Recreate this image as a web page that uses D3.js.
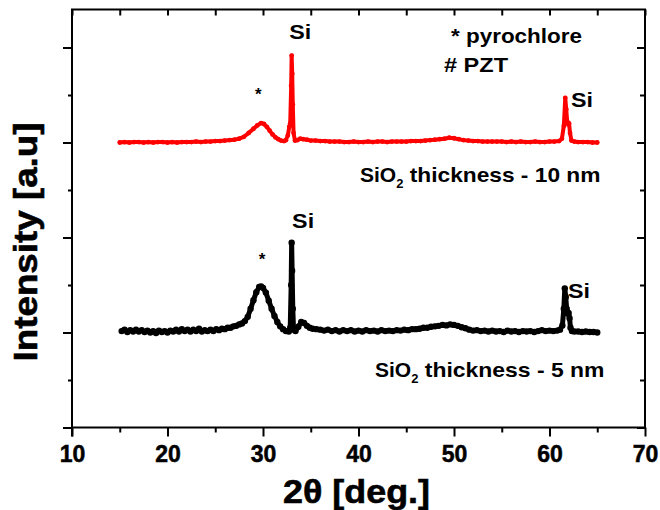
<!DOCTYPE html>
<html>
<head>
<meta charset="utf-8">
<script src="https://cdn.jsdelivr.net/npm/d3@7"></script>
<style>
  body { margin: 0; background: #fff; }
  svg text { font-family: "Liberation Sans", Arial, sans-serif; font-weight: bold; fill: #000; }
</style>
</head>
<body>
<div id="chart"></div>
<script>
// 2theta (deg) and intensity above baseline (a.u.)
var redTrace = [[15.0,.00],[15.5,.01],[16.0,.00],[16.5,.01],[17.0,.01],[17.5,.00],[18.0,.01],[18.5,.00],[19.0,.01],[19.5,.01],
  [20.0,.00],[20.5,.01],[21.0,.00],[21.5,.01],[22.0,.01],[22.5,.01],[23.0,.02],[23.5,.01],[24.0,.02],[24.5,.02],
  [25.0,.03],[25.5,.03],[26.0,.04],[26.5,.05],[27.0,.06],[27.5,.08],[28.0,.12],[28.5,.20],[29.0,.29],[29.4,.36],
  [29.8,.41],[30.1,.39],[30.4,.33],[30.7,.25],[31.0,.17],[31.3,.11],[31.6,.07],[31.9,.04],[32.2,.03],[32.4,.05],
  [32.6,.15],[32.75,.33],[32.85,.40],[32.95,1.20],[33.0,1.83],[33.06,1.45],[33.12,.80],[33.2,.20],[33.35,.04],[33.6,.05],
  [33.9,.08],[34.2,.07],[34.6,.06],[35.0,.04],[35.5,.04],[36.0,.03],[36.5,.03],[37.0,.02],[37.5,.02],[38.0,.02],
  [38.5,.01],[39.0,.01],[39.5,.02],[40.0,.01],[40.5,.01],[41.0,.02],[41.5,.01],[42.0,.02],[42.5,.02],[43.0,.01],
  [43.5,.02],[44.0,.02],[44.5,.02],[45.0,.02],[45.5,.03],[46.0,.03],[46.5,.03],[47.0,.04],[47.5,.05],[48.0,.06],
  [48.5,.07],[49.0,.08],[49.5,.10],[50.0,.09],[50.5,.07],[51.0,.05],[51.5,.04],[52.0,.03],[52.5,.03],[53.0,.02],
  [53.5,.02],[54.0,.02],[54.5,.02],[55.0,.02],[55.5,.01],[56.0,.02],[56.5,.01],[57.0,.02],[57.5,.01],[58.0,.01],
  [58.5,.02],[59.0,.01],[59.5,.01],[60.0,.02],[60.5,.02],[61.0,.03],[61.3,.08],[61.5,.35],[61.65,.94],[61.75,.70],
  [61.85,.45],[61.95,.38],[62.05,.40],[62.15,.20],[62.3,.04],[62.6,.02],[63.0,.01],[63.5,.01],[64.0,.01],[64.5,.00],[65.0,.00]]

var blackTrace = [[15.2,.03],[15.5,.06],[15.8,.01],[16.1,.05],[16.4,.02],[16.7,.06],[17.0,.02],[17.3,.05],[17.6,.01],[17.9,.04],
  [18.2,.00],[18.5,.03],[18.8,-.01],[19.1,.04],[19.4,.01],[19.7,.03],[20.0,.00],[20.3,.04],[20.6,.02],[20.9,.06],
  [21.2,.02],[21.5,.07],[21.8,.03],[22.1,.06],[22.4,.02],[22.7,.06],[23.0,.03],[23.3,.08],[23.6,.02],[23.9,.05],
  [24.2,.03],[24.5,.06],[24.8,.03],[25.1,.07],[25.4,.05],[25.7,.08],[26.0,.07],[26.3,.10],[26.6,.10],[26.9,.13],
  [27.2,.14],[27.5,.17],[27.8,.19],[28.1,.24],[28.4,.33],[28.7,.50],[29.0,.68],[29.3,.85],[29.6,.96],[29.8,.97],
  [30.0,.94],[30.3,.84],[30.6,.67],[30.9,.50],[31.2,.35],[31.5,.22],[31.8,.13],[32.1,.07],[32.4,.03],[32.7,.02],
  [32.85,.10],[32.95,1.00],[33.0,1.89],[33.05,1.30],[33.12,.50],[33.2,.06],[33.4,.03],[33.7,.12],[34.0,.22],[34.3,.20],
  [34.6,.14],[34.9,.10],[35.2,.08],[35.6,.07],[36.0,.06],[36.4,.04],[36.8,.06],[37.2,.03],[37.6,.05],[38.0,.02],
  [38.4,.05],[38.8,.03],[39.2,.05],[39.6,.02],[40.0,.04],[40.4,.02],[40.8,.05],[41.2,.03],[41.6,.04],[42.0,.02],
  [42.4,.05],[42.8,.03],[43.2,.04],[43.6,.03],[44.0,.05],[44.4,.04],[44.8,.06],[45.2,.05],[45.6,.07],[46.0,.07],
  [46.4,.08],[46.8,.10],[47.2,.10],[47.6,.12],[48.0,.13],[48.4,.14],[48.8,.16],[49.2,.15],[49.6,.17],[50.0,.16],
  [50.4,.14],[50.8,.11],[51.2,.09],[51.6,.06],[52.0,.04],[52.4,.05],[52.8,.03],[53.2,.04],[53.6,.02],[54.0,.04],
  [54.4,.02],[54.8,.03],[55.2,.01],[55.6,.04],[56.0,.02],[56.4,.03],[56.8,.01],[57.2,.03],[57.6,.02],[58.0,.03],
  [58.4,.01],[58.8,.03],[59.2,.05],[59.6,.03],[60.0,.04],[60.4,.03],[60.8,.04],[61.1,.06],[61.35,.15],[61.5,.50],
  [61.6,.93],[61.7,.75],[61.8,.50],[61.9,.40],[62.0,.41],[62.1,.30],[62.2,.10],[62.35,.03],[62.6,.02],[63.0,.02],
  [63.4,.01],[63.8,.02],[64.2,.01],[64.6,.01],[65.0,.00]]

var offsets = {red: 6, black: 2}   // vertical stacking of the two patterns
var xTicks = [10, 20, 30, 40, 50, 60, 70]
var xMinor = [15, 25, 35, 45, 55, 65]
var yMajor = [0, 2, 4, 6, 8]
var yMinor = [1, 3, 5, 7]

// peak labels: [2theta, intensity, text]
var peakLabels = [
  [33.9, 8.17, "Si"], [29.5, 6.9, "*"], [63.4, 6.75, "Si"],
  [34.2, 4.2, "Si"], [29.9, 3.42, "*"], [63.1, 2.73, "Si"]
]

var width = 660, height = 510
var margin = {top: 9.5, right: 15, bottom: 82.5, left: 72}

var svg = d3.select("#chart").append("svg")
  .attr("width", width)
  .attr("height", height)

var x = d3.scaleLinear().domain([10, 70]).range([margin.left, width - margin.right])
var y = d3.scaleLinear().domain([0, 8.8]).range([height - margin.bottom, margin.top])

var plotBottom = height - margin.bottom, plotTop = margin.top
var plotLeft = margin.left, plotRight = width - margin.right

function styleAxis(g) {
  g.selectAll(".domain").remove()
  g.selectAll("line").attr("stroke", "#000").attr("stroke-width", 2)
}

// bottom axis: major + minor outward
svg.append("g").attr("transform", "translate(0," + plotBottom + ")")
  .call(d3.axisBottom(x).tickValues(xTicks).tickSize(9).tickPadding(9))
  .call(styleAxis)
  .selectAll("text").style("font-size", "23px")
  .attr("stroke", "#000").attr("stroke-width", 0.5)
svg.append("g").attr("transform", "translate(0," + plotBottom + ")")
  .call(d3.axisBottom(x).tickValues(xMinor).tickSize(5).tickFormat(""))
  .call(styleAxis)
// top axis: inward
svg.append("g").attr("transform", "translate(0," + plotTop + ")")
  .call(d3.axisBottom(x).tickValues(xTicks.concat(xMinor)).tickSize(6).tickFormat(""))
  .call(styleAxis)

// left axis: outward, no labels
svg.append("g").attr("transform", "translate(" + plotLeft + ",0)")
  .call(d3.axisLeft(y).tickValues(yMajor).tickSize(9).tickFormat(""))
  .call(styleAxis)
svg.append("g").attr("transform", "translate(" + plotLeft + ",0)")
  .call(d3.axisLeft(y).tickValues(yMinor).tickSize(4).tickFormat(""))
  .call(styleAxis)
// right axis: inward
svg.append("g").attr("transform", "translate(" + plotRight + ",0)")
  .call(d3.axisLeft(y).tickValues(yMajor).tickSize(8).tickFormat(""))
  .call(styleAxis)
svg.append("g").attr("transform", "translate(" + plotRight + ",0)")
  .call(d3.axisLeft(y).tickValues(yMinor).tickSize(5).tickFormat(""))
  .call(styleAxis)

// frame
svg.append("rect")
  .attr("x", plotLeft).attr("y", plotTop)
  .attr("width", plotRight - plotLeft).attr("height", plotBottom - plotTop)
  .attr("fill", "none").attr("stroke", "#000").attr("stroke-width", 2)
svg.append("line").attr("x1", plotLeft).attr("x2", plotLeft).attr("y1", plotBottom).attr("y2", plotBottom + 9)
  .attr("stroke", "#000").attr("stroke-width", 2)

// traces
function drawTrace(data, off, color, lw, r) {
  var line = d3.line().x(d => x(d[0])).y(d => y(d[1] + off))
  svg.append("path").datum(data)
    .attr("d", line)
    .attr("fill", "none").attr("stroke", color)
    .attr("stroke-width", lw).attr("stroke-linejoin", "round").attr("stroke-linecap", "round")
  svg.append("g").selectAll("circle").data(data).enter().append("circle")
    .attr("cx", d => x(d[0])).attr("cy", d => y(d[1] + off))
    .attr("r", r).attr("fill", color)
}
drawTrace(blackTrace, offsets.black, "#000", 5, 3.2)
drawTrace(redTrace, offsets.red, "#ff0000", 4, 2.4)

// peak labels
svg.append("g").selectAll("text").data(peakLabels).enter().append("text")
  .attr("x", d => x(d[0])).attr("y", d => y(d[1]))
  .attr("text-anchor", "middle")
  .style("font-size", d => d[2] == "*" ? "17px" : "21px")
  .attr("textLength", d => d[2] == "*" ? null : 22)
  .attr("lengthAdjust", "spacingAndGlyphs")
  .text(d => d[2])

// notes
svg.append("text").attr("x", 451).attr("y", 43).style("font-size", "21px")
  .attr("textLength", 131).attr("lengthAdjust", "spacingAndGlyphs").text("* pyrochlore")
svg.append("text").attr("x", 444).attr("y", 72).style("font-size", "21px")
  .attr("textLength", 64).attr("lengthAdjust", "spacingAndGlyphs").text("# PZT")

function sio2(xp, yp, rest, len) {
  var t = svg.append("text").attr("x", xp).attr("y", yp).style("font-size", "21px")
  t.append("tspan").text("SiO")
  t.append("tspan").style("font-size", "13px").attr("dy", 6).text("2")
  t.append("tspan").attr("dy", -6).attr("textLength", len).attr("lengthAdjust", "spacingAndGlyphs").text(" " + rest)
}
sio2(360, 182, "thickness - 10 nm", 197)
sio2(375, 377, "thickness - 5 nm", 186)

// axis titles
svg.append("text")
  .attr("x", 283).attr("y", 503)
  .style("font-size", "34px")
  .attr("textLength", 147).attr("lengthAdjust", "spacingAndGlyphs")
  .attr("stroke", "#000").attr("stroke-width", 0.6)
  .text("2\u03b8 [deg.]")
svg.append("text")
  .attr("transform", "translate(37,242) rotate(-90)")
  .attr("text-anchor", "middle")
  .style("font-size", "34px")
  .attr("textLength", 239).attr("lengthAdjust", "spacingAndGlyphs")
  .attr("stroke", "#000").attr("stroke-width", 0.6)
  .text("Intensity [a.u]")
</script>
</body>
</html>
